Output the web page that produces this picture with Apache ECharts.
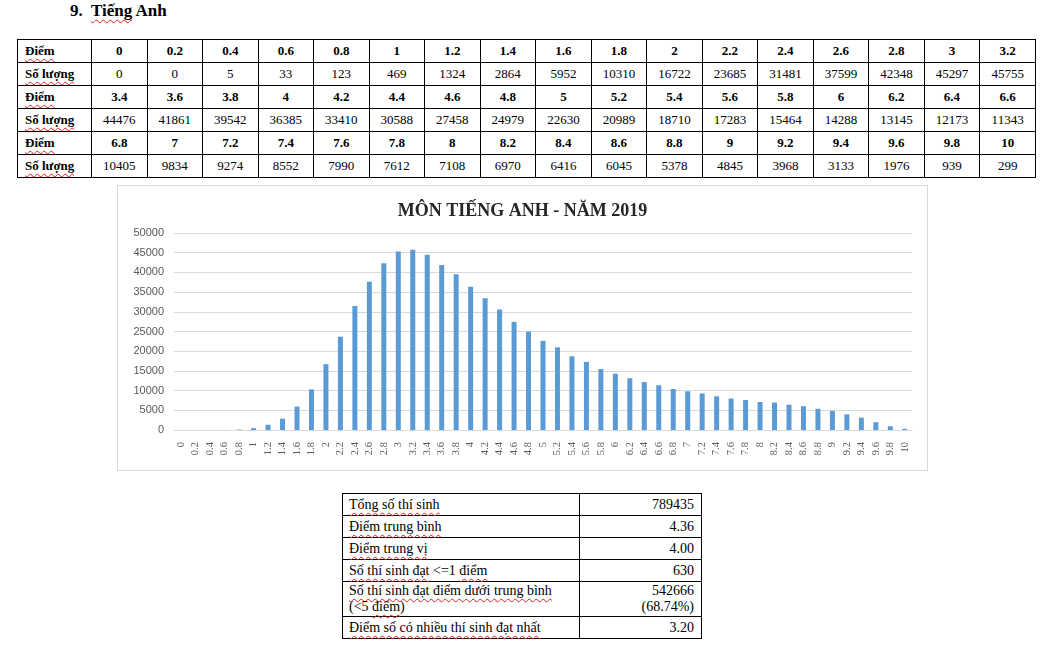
<!DOCTYPE html>
<html>
<head>
<meta charset="utf-8">
<script src="https://cdn.jsdelivr.net/npm/echarts@6/dist/echarts.min.js"></script>
<style>
  html, body { margin: 0; padding: 0; background: #fff; width: 1057px; height: 655px; overflow: hidden; }
  body { position: relative; font-family: "Liberation Serif", "DejaVu Serif", serif; color: #000; }
  .sq { text-decoration: underline wavy #e02020; text-decoration-thickness: 1px; text-underline-offset: 3px; text-decoration-skip-ink: none; }
  #heading { position: absolute; left: 70px; top: 1px; font-size: 17px; font-weight: bold; line-height: 20px; white-space: pre; }
  #dataTable { position: absolute; left: 17px; top: 39px; border-collapse: collapse; table-layout: fixed; width: 1019px; font-size: 13px; }
  #dataTable td { border: 1px solid #000; height: 22px; padding: 0; text-align: center; vertical-align: middle; line-height: 14px; }
  #dataTable td.lbl { text-align: left; padding-left: 7px; font-weight: bold; }
  #dataTable tr.score td { font-weight: bold; }
  #chartBox { position: absolute; left: 117px; top: 185px; width: 809px; height: 284px; border: 1px solid #d9d9d9; }
  #chart { width: 809px; height: 284px; }
  #sumTable { position: absolute; left: 342px; top: 493px; border-collapse: collapse; table-layout: fixed; width: 360px; font-size: 14px; }
  #sumTable td { border: 1px solid #000; padding: 0 7px 0 6px; height: 21px; line-height: 16px; vertical-align: middle; }
  #sumTable td.v { text-align: right; }
</style>
</head>
<body>
<div id="heading">9.  <span class="sq">Tiếng</span> Anh</div>
<table id="dataTable"><colgroup id="cg"></colgroup><tbody id="dtBody"></tbody></table>
<div id="chartBox"><div id="chart"></div></div>
<table id="sumTable"><colgroup><col style="width:237px"><col></colgroup><tbody id="sumBody"></tbody></table>
<script>
// ---- data ----
var chartTitle = 'MÔN TIẾNG ANH - NĂM 2019';
var scores = ['0','0.2','0.4','0.6','0.8','1','1.2','1.4','1.6','1.8','2','2.2','2.4','2.6','2.8','3','3.2',
              '3.4','3.6','3.8','4','4.2','4.4','4.6','4.8','5','5.2','5.4','5.6','5.8','6','6.2','6.4','6.6',
              '6.8','7','7.2','7.4','7.6','7.8','8','8.2','8.4','8.6','8.8','9','9.2','9.4','9.6','9.8','10'];
var counts = [0,0,5,33,123,469,1324,2864,5952,10310,16722,23685,31481,37599,42348,45297,45755,
              44476,41861,39542,36385,33410,30588,27458,24979,22630,20989,18710,17283,15464,14288,13145,12173,11343,
              10405,9834,9274,8552,7990,7612,7108,6970,6416,6045,5378,4845,3968,3133,1976,939,299];
var yTicks = { min: 0, max: 50000, interval: 5000 };
var rowLabelScore = 'Điểm';
var rowLabelCount = 'Số lượng';
var summaryLabels = [
  ['Tổng số thí sinh'],
  ['Điểm trung bình'],
  ['Điểm trung vị'],
  ['Số thí sinh đạt', ' <=1 ', 'điểm'],
  ['Số thí sinh đạt điểm dưới trung bình', '<br>(<5 ', 'điểm', ')'],
  ['Điểm số có nhiều thí sinh đạt nhất']
];
var summaryValues = ['789435', '4.36', '4.00', '630', '542666<br>(68.74%)', '3.20'];

// ---- data table ----
(function () {
  var perRow = 17;
  var cg = document.getElementById('cg');
  var c0 = document.createElement('col'); c0.style.width = '74px'; cg.appendChild(c0);
  for (var i = 0; i < perRow; i++) { cg.appendChild(document.createElement('col')); }
  var body = document.getElementById('dtBody');
  function esc(s){ return String(s).replace(/&/g,'&amp;').replace(/</g,'&lt;'); }
  for (var g = 0; g < scores.length / perRow; g++) {
    var tr1 = document.createElement('tr'); tr1.className = 'score';
    var tr2 = document.createElement('tr');
    var h1 = '<td class="lbl"><span class="sq">' + rowLabelScore + '</span></td>';
    var h2 = '<td class="lbl"><span class="sq">' + rowLabelCount + '</span></td>';
    for (var j = 0; j < perRow; j++) {
      var k = g * perRow + j;
      h1 += '<td>' + esc(scores[k]) + '</td>';
      h2 += '<td>' + esc(counts[k]) + '</td>';
    }
    tr1.innerHTML = h1; tr2.innerHTML = h2;
    body.appendChild(tr1); body.appendChild(tr2);
  }
  // summary
  var sb = document.getElementById('sumBody');
  for (var r = 0; r < summaryLabels.length; r++) {
    var parts = summaryLabels[r], html = '';
    for (var p = 0; p < parts.length; p++) {
      var t = parts[p];
      if (t.indexOf('<br>') === 0) { html += '<br>' + esc(t.slice(4)); }
      else if (/^\s/.test(t) || t === ')') { html += esc(t); }
      else { html += '<span class="sq">' + esc(t) + '</span>'; }
    }
    var tr = document.createElement('tr');
    if (r === 4) tr.style.height = '35px';
    tr.innerHTML = '<td>' + html + '</td><td class="v">' + summaryValues[r] + '</td>';
    sb.appendChild(tr);
  }
})();

// ---- chart ----
var chart = echarts.init(document.getElementById('chart'), null, { renderer: 'canvas' });
chart.setOption({
  animation: false,
  backgroundColor: '#fff',
  title: {
    text: chartTitle,
    left: 'center',
    top: 11,
    textStyle: { fontFamily: 'Liberation Serif', fontWeight: 'bold', fontSize: 18, color: '#262626' }
  },
  grid: { left: 56, right: 15, top: 47, bottom: 40, containLabel: false },
  xAxis: {
    type: 'category',
    data: scores,
    axisLine: { show: true, lineStyle: { color: '#d9d9d9', width: 1 } },
    axisTick: { show: false },
    axisLabel: {
      interval: 0, rotate: 90, margin: 12,
      fontFamily: 'Liberation Serif', fontSize: 10.5, color: '#595959'
    }
  },
  yAxis: {
    type: 'value',
    min: yTicks.min, max: yTicks.max, interval: yTicks.interval,
    axisLine: { show: false },
    axisTick: { show: false },
    splitLine: { lineStyle: { color: '#d9d9d9', width: 1 } },
    axisLabel: {
      fontFamily: 'Liberation Sans', fontSize: 11, color: '#595959', margin: 10,
      formatter: function (v) { return String(v); }
    }
  },
  series: [{
    type: 'bar',
    data: counts,
    barWidth: 5,
    itemStyle: { color: '#5b9bd5' }
  }]
});
</script>
</body>
</html>
